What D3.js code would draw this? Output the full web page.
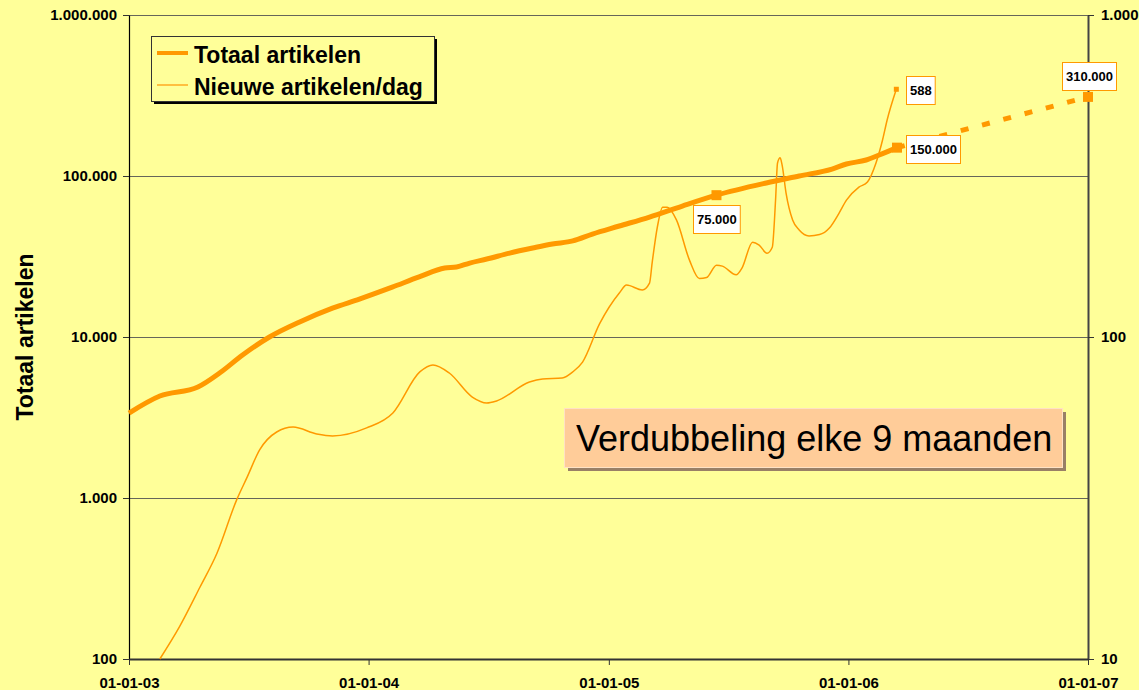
<!DOCTYPE html>
<html>
<head>
<meta charset="utf-8">
<script src="https://cdn.jsdelivr.net/npm/d3@7"></script>
<style>
  body { margin: 0; background: #ffff99; }
  svg { display: block; font-family: "Liberation Sans", Arial, sans-serif; }
</style>
</head>
<body>
<svg id="chart"></svg>
<script>
const width = 1139,
  height = 690;

// Totaal artikelen (left axis)
const totaalDates = ["2003-01-01", "2003-02-17", "2003-04-16", "2003-05-19", "2003-06-23", "2003-08-03",
  "2003-09-18", "2003-11-07", "2003-12-18", "2004-02-06", "2004-03-18", "2004-04-26", "2004-05-14",
  "2004-06-03", "2004-06-29", "2004-08-03", "2004-09-07", "2004-10-07", "2004-11-07", "2004-12-07",
  "2005-01-17", "2005-03-04", "2005-04-23", "2005-06-14", "2005-08-29", "2005-10-18", "2005-12-07",
  "2005-12-29", "2006-01-28", "2006-02-17", "2006-03-16"];
const totaalValues = [3370, 4300, 4890, 5970, 7730, 10000,
  12400, 15100, 17200, 20400, 23600, 26800, 27200,
  28800, 30500, 33200, 35700, 37800, 39500, 43600,
  48900, 55600, 65100, 76000, 90500, 100000, 110500,
  118700, 125700, 135000, 150000];

// projectie
const projDates = ["2006-03-16", "2007-01-01"];
const projValues = [150000, 310000];

// Nieuwe artikelen/dag (right axis)
const nieuweDates = ["2003-02-17", "2003-03-19", "2003-04-19", "2003-05-15", "2003-06-14", "2003-06-30",
  "2003-07-19", "2003-08-14", "2003-09-08", "2003-10-14", "2003-11-07", "2003-12-29", "2004-02-07",
  "2004-03-19", "2004-04-08", "2004-05-03", "2004-06-07", "2004-06-29", "2004-07-14", "2004-09-02",
  "2004-09-22", "2004-10-22", "2004-11-07", "2004-11-22", "2004-12-18", "2005-01-17", "2005-01-28",
  "2005-02-21", "2005-03-04", "2005-03-08", "2005-03-16", "2005-03-24", "2005-03-31", "2005-04-14",
  "2005-05-04", "2005-05-19", "2005-05-30", "2005-06-14", "2005-06-23", "2005-07-14", "2005-07-23",
  "2005-08-08", "2005-08-18", "2005-08-30", "2005-09-07", "2005-09-12", "2005-09-15", "2005-09-19",
  "2005-09-22", "2005-09-28", "2005-10-08", "2005-10-18", "2005-11-02", "2005-11-18", "2005-12-03",
  "2005-12-18", "2005-12-29", "2006-01-17", "2006-01-30", "2006-02-12", "2006-02-22", "2006-03-01",
  "2006-03-15"];
const nieuweValues = [10, 12.6, 16.7, 21.3, 31.2, 36.7,
  44.6, 50.7, 52.5, 50.0, 49.3, 52.2, 58.1,
  77.9, 81.9, 77.3, 65.1, 62.4, 63.3, 72.5,
  74.1, 74.6, 77.9, 83.6, 110, 137, 145,
  140, 147, 170, 220, 253, 253, 231,
  173, 152, 153, 167, 166, 156, 164,
  197, 193, 182, 190, 266, 347, 360,
  342, 280, 231, 215, 206, 208, 218,
  243, 266, 292, 303, 347, 409, 472,
  588];

const leftTicks = [100, 1000, 10000, 100000, 1000000];
const rightTicks = [10, 100, 1000];
const xTicks = ["2003-01-01", "2004-01-01", "2005-01-01", "2006-01-01", "2007-01-01"];

const parse = d3.timeParse("%Y-%m-%d");
const nl = d3.formatLocale({ decimal: ",", thousands: ".", grouping: [3], currency: ["€", ""] });
const fmt = nl.format(",d");

const totaal = totaalDates.map((d, i) => ({ date: parse(d), value: totaalValues[i] }));
const proj = projDates.map((d, i) => ({ date: parse(d), value: projValues[i] }));
const nieuwe = nieuweDates.map((d, i) => ({ date: parse(d), value: nieuweValues[i] }));

const svg = d3.select("#chart").attr("width", width).attr("height", height);

svg.append("rect").attr("width", width).attr("height", height).attr("fill", "#ffff99");

const x = d3.scaleTime().domain([parse("2003-01-01"), parse("2007-01-01")]).range([129, 1088]);
const yLeft = d3.scaleLog().domain([100, 1000000]).range([659, 15]);
const yRight = d3.scaleLog().domain([10, 1000]).range([659, 15]);

const orange = "#ff9900";

// gridlines
svg.append("g")
  .selectAll("line")
  .data(leftTicks.slice(1))
  .join("line")
  .attr("x1", 129)
  .attr("x2", 1088)
  .attr("y1", d => Math.round(yLeft(d)) + 0.5)
  .attr("y2", d => Math.round(yLeft(d)) + 0.5)
  .attr("stroke", "#66665a")
  .attr("stroke-width", 1);

// axes
const axisLeft = svg.append("g")
  .attr("transform", "translate(129,0)")
  .call(d3.axisLeft(yLeft).tickValues(leftTicks).tickFormat(fmt).tickSize(6).tickSizeOuter(0).tickPadding(6));

const axisRight = svg.append("g")
  .attr("transform", "translate(1088,0)")
  .call(d3.axisRight(yRight).tickValues(rightTicks).tickFormat(fmt).tickSize(6).tickSizeOuter(0).tickPadding(7));

const axisBottom = svg.append("g")
  .attr("transform", "translate(0,659)")
  .call(d3.axisBottom(x).tickValues(xTicks.map(parse)).tickFormat(d3.timeFormat("%d-%m-%y")).tickSize(6).tickSizeOuter(0).tickPadding(12));

[axisLeft, axisRight, axisBottom].forEach(g => {
  g.selectAll("text")
    .attr("font-family", "Liberation Sans, Arial, sans-serif")
    .attr("font-size", 15)
    .attr("font-weight", "bold")
    .attr("fill", "#000");
});
axisLeft.select(".domain").attr("stroke", "#000").attr("stroke-width", 1.2);
axisLeft.selectAll(".tick line").attr("stroke", "#333");
axisRight.select(".domain").attr("stroke", "#444").attr("stroke-width", 2);
axisRight.selectAll(".tick line").attr("stroke", "#333");
axisBottom.select(".domain").attr("stroke", "#333").attr("stroke-width", 2);
axisBottom.selectAll(".tick line").attr("stroke", "#333");

// y title
svg.append("text")
  .attr("transform", "translate(33,337) rotate(-90)")
  .attr("text-anchor", "middle")
  .attr("font-size", 23)
  .attr("font-weight", "bold")
  .text("Totaal artikelen");

// lines
const lineLeft = d3.line().x(d => x(d.date)).y(d => yLeft(d.value)).curve(d3.curveMonotoneX);
const lineRight = d3.line().x(d => x(d.date)).y(d => yRight(d.value)).curve(d3.curveMonotoneX);

svg.append("path")
  .datum(nieuwe)
  .attr("fill", "none")
  .attr("stroke", orange)
  .attr("stroke-width", 1.5)
  .attr("d", lineRight);

svg.append("path")
  .datum(proj)
  .attr("fill", "none")
  .attr("stroke", orange)
  .attr("stroke-width", 5)
  .attr("stroke-dasharray", "8,14")
  .attr("d", d3.line().x(d => x(d.date)).y(d => yLeft(d.value)));

svg.append("path")
  .datum(totaal)
  .attr("fill", "none")
  .attr("stroke", orange)
  .attr("stroke-width", 5)
  .attr("stroke-linejoin", "round")
  .attr("d", lineLeft);

// markers + labels
const marks = [
  { px: x(parse("2005-06-14")), py: yLeft(76000), size: 10, text: "75.000", dx: -23, dy: 10 },
  { px: x(parse("2006-03-16")), py: yLeft(150000), size: 10, text: "150.000", dx: 9, dy: -13 },
  { px: x(parse("2006-03-15")), py: yRight(588), size: 5, text: "588", dx: 10, dy: -13 },
  { px: x(parse("2007-01-01")), py: yLeft(310000), size: 10, text: "310.000", dx: -26, dy: -35 }
];

marks.forEach(m => {
  svg.append("rect")
    .attr("x", m.px - m.size / 2)
    .attr("y", m.py - m.size / 2)
    .attr("width", m.size)
    .attr("height", m.size)
    .attr("fill", orange);
});

marks.forEach(m => {
  const g = svg.append("g").attr("transform", `translate(${Math.round(m.px + m.dx)},${Math.round(m.py + m.dy)})`);
  const box = g.append("rect").attr("height", 28).attr("fill", "#fff").attr("stroke", orange).attr("stroke-width", 1);
  const t = g.append("text")
    .attr("y", 19)
    .attr("font-size", 13)
    .attr("font-weight", "bold")
    .attr("text-anchor", "middle")
    .text(m.text);
  const w = t.node().getComputedTextLength() + 7;
  box.attr("width", w).attr("x", 0.5).attr("y", 0.5);
  t.attr("x", w / 2 + 0.5);
});

// legend
const legend = svg.append("g").attr("transform", "translate(151,36)");
legend.append("rect").attr("x", 3).attr("y", 3).attr("width", 283).attr("height", 65).attr("fill", "#000");
legend.append("rect").attr("x", 0.5).attr("y", 0.5).attr("width", 283).attr("height", 65)
  .attr("fill", "#ffff99").attr("stroke", "#333").attr("stroke-width", 1);
legend.append("line").attr("x1", 6).attr("x2", 37).attr("y1", 17).attr("y2", 17)
  .attr("stroke", orange).attr("stroke-width", 4);
legend.append("line").attr("x1", 6).attr("x2", 37).attr("y1", 49).attr("y2", 49)
  .attr("stroke", "#ffaa22").attr("stroke-width", 1.5);
legend.append("text").attr("x", 43).attr("y", 27).attr("font-size", 23).attr("font-weight", "bold").text("Totaal artikelen");
legend.append("text").attr("x", 43).attr("y", 59).attr("font-size", 23).attr("font-weight", "bold").text("Nieuwe artikelen/dag");

// annotation
const note = svg.append("g").attr("transform", "translate(564,408)");
note.append("rect").attr("x", 4).attr("y", 4).attr("width", 498).attr("height", 59).attr("fill", "#998066");
note.append("rect").attr("x", 0.5).attr("y", 0.5).attr("width", 498).attr("height", 59)
  .attr("fill", "#ffcc99").attr("stroke", "#ffe2c4").attr("stroke-width", 1);
note.append("text").attr("x", 12).attr("y", 43).attr("font-size", 36).attr("fill", "#000")
  .text("Verdubbeling elke 9 maanden");
</script>
</body>
</html>
